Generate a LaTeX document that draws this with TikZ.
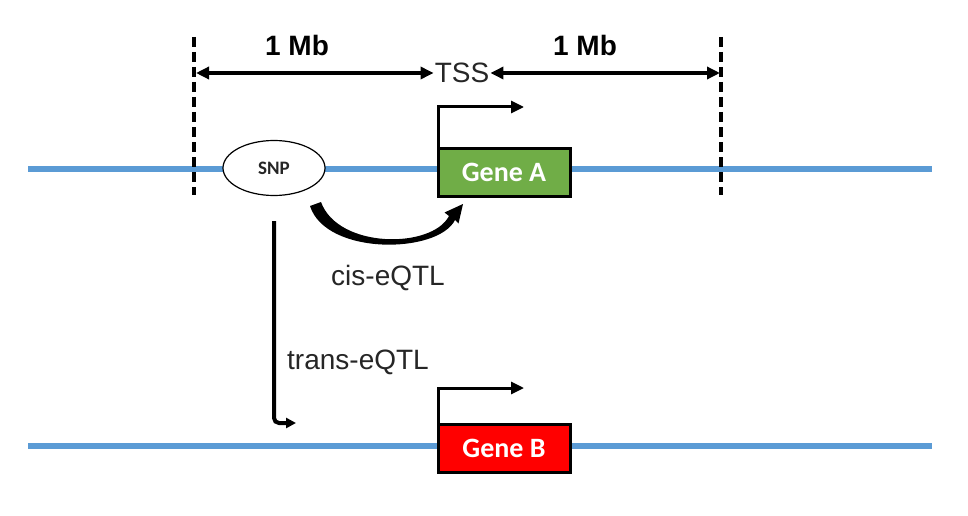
\documentclass[tikz,border=0pt]{standalone}
\usepackage{fontspec}
\setmainfont{Liberation Sans}
\newfontfamily\calfont{Carlito}
\usetikzlibrary{arrows.meta,shapes.geometric}
\definecolor{dnablue}{HTML}{5B9BD5}
\definecolor{geneAcol}{HTML}{70AD47}
\definecolor{geneBcol}{HTML}{FF0000}
\definecolor{txtgray}{HTML}{262626}
\tikzset{
  dna/.style={draw=dnablue,line width=6pt},
  bound/.style={draw=black,line width=4pt,dash pattern=on 10pt off 5pt},
  dimarrow/.style={draw=black,line width=3.5pt,{Triangle[length=13pt,width=12pt]}-{Triangle[length=13pt,width=12pt]}},
  tssarrow/.style={draw=black,line width=3pt,-{Triangle[length=13pt,width=12pt]}},
  transarrow/.style={draw=black,line width=4pt,rounded corners=5pt,-{Triangle[length=10pt,width=10pt]}},
  lbl/.style={text=txtgray,font=\fontsize{28}{30}\selectfont,inner sep=1pt},
  boldlbl/.style={text=black,font=\fontsize{28}{30}\selectfont\bfseries,inner sep=1pt},
  snpnode/.style={ellipse,draw=black,line width=1.2pt,fill=white,minimum width=102pt,minimum height=55pt,inner sep=0pt,font=\calfont\bfseries\fontsize{19}{21}\selectfont,text=txtgray},
  genebox/.style={rectangle,draw=black,line width=3pt,minimum width=132pt,minimum height=48pt,inner sep=0pt,text=white,font=\calfont\bfseries\fontsize{28}{30}\selectfont},
}
\begin{document}
\begin{tikzpicture}[x=1pt,y=-1pt]
\useasboundingbox (0,0) rectangle (968,516);
% DNA strands
\coordinate (l1a) at (28,169);
\coordinate (l1b) at (932,169);
\coordinate (l2a) at (28,446);
\coordinate (l2b) at (932,446);
\draw[dna] (l1a) -- (l1b);
\draw[dna] (l2a) -- (l2b);
% window boundaries
\coordinate (d1t) at (194,37);
\coordinate (d1b) at (194,195);
\coordinate (d2t) at (721,37);
\coordinate (d2b) at (721,195);
\draw[bound] (d1t) -- (d1b);
\draw[bound] (d2t) -- (d2b);
% labels
\node[boldlbl] (mb1) at (297,45) {1 Mb};
\node[boldlbl] (mb2) at (585,45) {1 Mb};
\node[lbl] (tss) at (462,73) {TSS};
\coordinate (dl) at (196,73);
\coordinate (dr) at (720,73);
\draw[dimarrow] (dl) -- (tss.west);
\draw[dimarrow] (tss.east) -- (dr);
% SNP and genes
\node[snpnode] (snp) at (274,168) {SNP};
\node[genebox,fill=geneAcol] (gA) at (504,172.5) {Gene A};
\node[genebox,fill=geneBcol] (gB) at (504,448.5) {Gene B};
% TSS arrows
\coordinate (tA) at (524,107);
\coordinate (tB) at (524,388);
\draw[tssarrow] ([xshift=2pt]gA.north west) |- (tA);
\draw[tssarrow] ([xshift=2pt]gB.north west) |- (tB);
% cis arrow (tapered)
\fill[black] (310,206) .. controls (326,256) and (438,254) .. (455,220)
  -- (458.5,223.5) -- (463,204) -- (444.5,212.5) -- (449,216)
  .. controls (432,249) and (338,249) .. (321,202) -- cycle;
\node[lbl] (cis) at (388,278) {cis-eQTL};
% trans arrow
\coordinate (trS) at (274,221);
\coordinate (trE) at (296,423);
\draw[transarrow] (trS) |- (trE);
\node[lbl] (trans) at (358,362) {trans-eQTL};
\end{tikzpicture}
\end{document}
